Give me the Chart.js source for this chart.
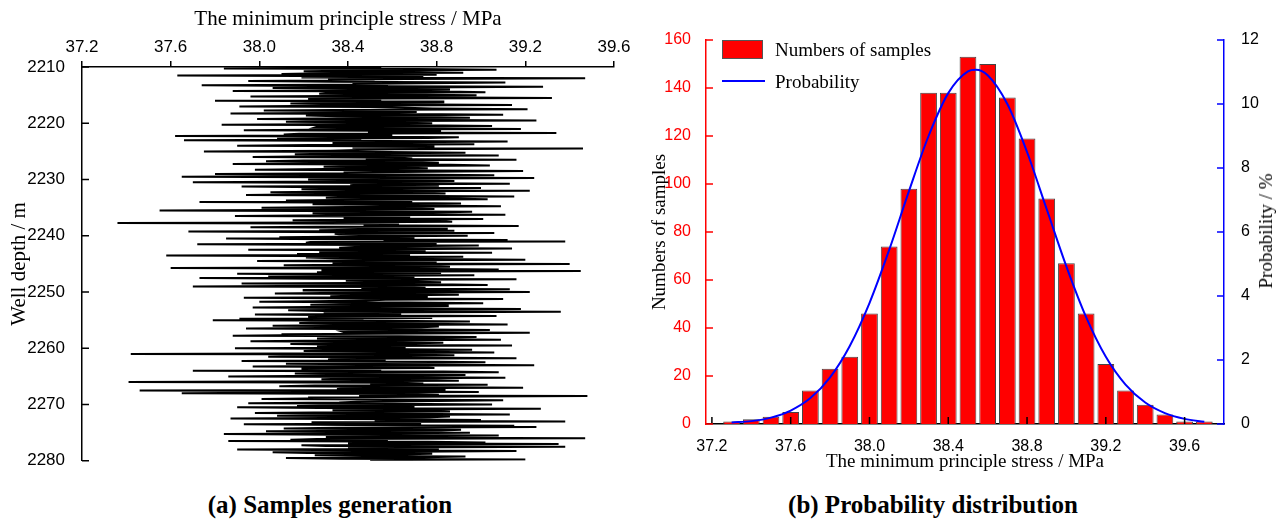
<!DOCTYPE html>
<html>
<head>
<meta charset="utf-8">
<script src="https://cdn.jsdelivr.net/npm/chart.js@4.4.1/dist/chart.umd.min.js"></script>
<style>
    body { margin: 0; width: 1282px; height: 522px; position: relative; background: #fff; overflow: hidden; }
    canvas { position: absolute; top: 0; }
    .txt { position: absolute; white-space: nowrap; font-family: 'Liberation Serif', 'Times New Roman', serif; color: #000; }
    .caption { font-weight: bold; font-size: 25px; line-height: 28px; top: 491px; transform: translateX(-50%); }
</style>
</head>
<body>
<canvas id="samplesChart" width="640" height="480" style="left:0"></canvas>
<canvas id="probChart" width="642" height="480" style="left:640px"></canvas>

<!-- leyenda del histograma -->
<div style="position:absolute;left:722px;top:40px;width:41px;height:19px;background:#ff0000;border:1px solid #555;box-sizing:border-box"></div>
<div class="txt" style="left:775px;top:39px;font-size:19px;line-height:22px">Numbers of samples</div>
<div style="position:absolute;left:722px;top:80px;width:43px;height:2px;background:#0000ff"></div>
<div class="txt" style="left:775px;top:71px;font-size:19px;line-height:22px">Probability</div>

<div class="txt" style="left:1266px;top:231px;font-size:19px;transform:translate(-50%,-50%) rotate(-90deg)">Probability / %</div>

<div class="txt caption" style="left:330px">(a) Samples generation</div>
<div class="txt caption" style="left:933px">(b) Probability distribution</div>

<script>
// (a) muestras: profundidad cada 0.25 m desde 2210, con muestras intermedias a +0.125 m
const DEPTH_START = 2210;
const DEPTH_STEP = 0.25;
const STRESS_SAMPLES = [
    38.55, 37.84, 39.07, 38.20, 38.92, 38.10, 37.63, 38.74, 39.47, 38.31, 37.95, 39.11, 38.42, 37.74, 39.28, 38.06, 38.86, 37.88, 39.02, 38.27,
    38.98, 37.96, 39.32, 38.40, 37.80, 38.83, 38.14, 39.14, 37.91, 38.66, 39.21, 38.02, 38.71, 37.87, 39.10, 38.35, 38.95, 37.99, 39.25, 38.12,
    38.78, 37.83, 39.05, 38.25, 39.18, 37.93, 38.57, 39.34, 38.11, 37.62, 38.90, 38.08, 37.66, 39.12, 38.33, 38.97, 37.90, 38.62, 39.46, 38.44,
    37.75, 38.93, 38.16, 39.08, 37.97, 38.69, 39.16, 38.03, 38.81, 37.88, 39.04, 38.29, 38.76, 37.98, 39.19, 38.38, 37.80, 39.06, 37.65, 39.24,
    38.22, 38.88, 37.70, 39.13, 38.41, 37.92, 39.00, 38.19, 39.22, 38.05, 38.84, 37.94, 39.15, 38.30, 39.03, 38.12, 37.73, 38.91, 38.47, 39.09,
    38.01, 38.79, 37.55, 38.96, 38.24, 39.11, 37.89, 38.68, 39.01, 38.15, 38.87, 37.36, 38.63, 39.17, 37.96, 38.85, 38.27, 37.68, 39.06, 38.36,
    38.94, 38.09, 37.85, 39.12, 39.38, 38.21, 37.72, 38.99, 38.43, 39.14, 37.95, 38.72, 39.05, 38.17, 37.58, 38.92, 38.34, 39.20, 37.99, 38.80,
    39.40, 38.11, 38.86, 37.60, 39.08, 39.45, 38.26, 37.90, 38.97, 38.04, 37.73, 39.16, 38.39, 38.82, 37.92, 39.03, 37.70, 38.75, 39.13, 38.20,
    39.22, 38.07, 38.90, 38.32, 37.93, 39.10, 38.48, 38.00, 39.01, 38.23, 38.85, 37.97, 39.18, 38.13, 39.36, 38.29, 37.98, 39.07, 38.58, 37.91,
    37.79, 38.95, 38.18, 39.12, 38.06, 38.73, 37.94, 39.04, 38.37, 39.22, 38.10, 37.88, 38.98, 38.26, 39.09, 37.96, 38.83, 38.14, 39.14, 38.45,
    37.89, 38.96, 38.20, 39.06, 37.42, 38.88, 38.04, 39.16, 38.31, 37.92, 39.02, 38.12, 39.24, 37.97, 38.79, 38.40, 37.70, 39.08, 38.16, 38.93,
    37.86, 39.11, 38.28, 38.90, 37.41, 38.74, 39.03, 38.09, 39.19, 38.35, 37.46, 38.99, 37.65, 38.81, 39.48, 38.22, 38.01, 39.10, 38.44, 37.95,
    39.05, 38.17, 37.90, 39.27, 38.33, 38.86, 37.98, 39.13, 38.08, 38.77, 37.87, 39.00, 39.38, 38.24, 37.93, 39.15, 39.25, 38.11, 38.91, 38.03,
    38.95, 37.84, 39.08, 38.30, 39.47, 38.14, 37.86, 39.02, 39.35, 38.19, 39.38, 38.40, 37.90, 39.16, 38.06, 38.78, 38.25, 38.93, 38.12, 39.20,
    38.50
];
const STRESS_SAMPLES_MID = [
    38.36, 38.71, 38.48, 38.62, 38.29, 38.80, 38.44, 38.19, 38.66, 38.52, 38.33, 38.75, 38.58, 38.24, 38.69, 38.41, 38.57, 38.85, 38.31, 38.64,
    38.47, 38.70, 38.22, 38.55, 38.83, 38.38, 38.61, 38.27, 38.50, 38.78, 38.34, 38.59, 38.45, 38.68, 38.21, 38.74, 38.40, 38.63, 38.30, 38.56,
    38.43, 38.72, 38.26, 38.65, 38.37, 38.82, 38.49, 38.18, 38.60, 38.35, 38.76, 38.46, 38.28, 38.67, 38.53, 38.23, 38.79, 38.42, 38.61, 38.32,
    38.58, 38.39, 38.73, 38.25, 38.64, 38.48, 38.20, 38.70, 38.36, 38.86, 38.44, 38.62, 38.30, 38.55, 38.77, 38.41, 38.68, 38.27, 38.59, 38.50,
    38.66, 38.33, 38.57, 38.45, 38.81, 38.28, 38.63, 38.51, 38.37, 38.74, 38.22, 38.60, 38.46, 38.84, 38.35, 38.69, 38.54, 38.24, 38.71, 38.40,
    38.62, 38.29, 38.50, 38.78, 38.43, 38.19, 38.66, 38.38, 38.57, 38.83, 38.31, 38.60, 38.47, 38.26, 38.72, 38.53, 38.88, 38.42, 38.34, 38.64,
    38.45, 38.70, 38.31, 38.56, 38.23, 38.80, 38.49, 38.65, 38.36, 38.59, 38.75, 38.27, 38.52, 38.68, 38.40, 38.21, 38.77, 38.44, 38.61, 38.33,
    38.55, 38.73, 38.38, 38.63, 38.28, 38.47, 38.82, 38.35, 38.58, 38.70, 38.25, 38.49, 38.66, 38.41, 38.79, 38.30, 38.60, 38.46, 38.20, 38.69,
    38.39, 38.62, 38.48, 38.76, 38.32, 38.57, 38.24, 38.67, 38.43, 38.85, 38.36, 38.54, 38.71, 38.29, 38.50, 38.64, 38.42, 38.22, 38.78, 38.47,
    38.58, 38.34, 38.69, 38.45, 38.81, 38.27, 38.61, 38.52, 38.38, 38.74, 38.20, 38.63, 38.48, 38.87, 38.33, 38.56, 38.70, 38.41, 38.26, 38.66,
    38.51, 38.37, 38.73, 38.44, 38.60, 38.23, 38.68, 38.35, 38.57, 38.80, 38.30, 38.62, 38.46, 38.71, 38.19, 38.55, 38.83, 38.39, 38.64, 38.28,
    38.59, 38.42, 38.75, 38.32, 38.63, 38.50, 38.25, 38.69, 38.40, 38.84, 38.56, 38.21, 38.67, 38.45, 38.72, 38.31, 38.58, 38.80, 38.36, 38.61,
    38.47, 38.70, 38.27, 38.55, 38.78, 38.38, 38.64, 38.43, 38.86, 38.29, 38.60, 38.52, 38.24, 38.73, 38.41, 38.66, 38.35, 38.57, 38.82, 38.46,
    38.62, 38.33, 38.71, 38.49, 38.26, 38.58, 38.76, 38.40, 38.65, 38.30, 38.54, 38.81, 38.44, 38.68, 38.22, 38.60, 38.47, 38.74, 38.37, 38.57
];
const STRESS_TICKS = [37.2, 37.6, 38.0, 38.4, 38.8, 39.2, 39.6];
const DEPTH_TICKS = [2210, 2220, 2230, 2240, 2250, 2260, 2270, 2280];

// (b) histograma y curva de probabilidad
const BIN_CENTERS = [37.3, 37.4, 37.5, 37.6, 37.7, 37.8, 37.9, 38.0, 38.1, 38.2, 38.3, 38.4, 38.5,
                     38.6, 38.7, 38.8, 38.9, 39.0, 39.1, 39.2, 39.3, 39.4, 39.5, 39.6, 39.7];
const SAMPLE_COUNTS = [1, 2, 3, 5, 14, 23, 28, 46, 74, 98, 138, 138, 153,
                       150, 136, 119, 94, 67, 46, 25, 14, 8, 4, 1, 1];
const PROB_X = [37.3, 37.4, 37.5, 37.6, 37.7, 37.8, 37.9, 38.0, 38.1, 38.2, 38.3, 38.4, 38.5, 38.54,
                38.6, 38.7, 38.8, 38.9, 39.0, 39.1, 39.2, 39.3, 39.4, 39.5, 39.6, 39.7];
const PROB_PERCENT = [0.05, 0.09, 0.2, 0.42, 0.81, 1.46, 2.44, 3.78, 5.44, 7.27, 9.0, 10.34, 11.02, 11.07,
                      10.9, 10.0, 8.5, 6.71, 4.92, 3.34, 2.1, 1.23, 0.67, 0.34, 0.16, 0.07];
const COUNT_TICKS = [0, 20, 40, 60, 80, 100, 120, 140, 160];
const PROB_TICKS = [0, 2, 4, 6, 8, 10, 12];

const SANS = "'Liberation Sans', Arial, sans-serif";
const SERIF = "'Liberation Serif', 'Times New Roman', serif";

// marcas de los ejes hacia dentro
const inwardTicks = {
    id: 'inwardTicks',
    afterDatasetsDraw(chart, args, opts) {
        const ctx = chart.ctx;
        (opts.marks || []).forEach(m => {
            const s = chart.scales[m.axis];
            ctx.save();
            ctx.strokeStyle = m.color;
            ctx.lineWidth = 1.5;
            ctx.beginPath();
            s.ticks.forEach(t => {
                const p = s.getPixelForValue(t.value);
                if (m.side === 'bottom') { ctx.moveTo(p, s.top); ctx.lineTo(p, s.top - m.len); }
                else if (m.side === 'left') { ctx.moveTo(s.right, p); ctx.lineTo(s.right + m.len, p); }
                else if (m.side === 'right') { ctx.moveTo(s.left, p); ctx.lineTo(s.left - m.len, p); }
            });
            ctx.stroke();
            ctx.restore();
        });
    }
};

const fixedTicks = arr => scale => { scale.ticks = arr.map(v => ({ value: v })); };

// puntos en orden de profundidad
const samplePoints = [];
STRESS_SAMPLES.forEach((s, i) => {
    samplePoints.push({ x: s, y: DEPTH_START + i * DEPTH_STEP });
    if (i < STRESS_SAMPLES_MID.length) {
        samplePoints.push({ x: STRESS_SAMPLES_MID[i], y: DEPTH_START + (i + 0.5) * DEPTH_STEP });
    }
});

new Chart(document.getElementById('samplesChart'), {
    type: 'line',
    data: {
        datasets: [{
            data: samplePoints,
            borderColor: '#000',
            borderWidth: 2,
            pointRadius: 0,
            tension: 0
        }]
    },
    plugins: [inwardTicks],
    options: {
        responsive: false,
        animation: false,
        layout: { padding: { left: 0, right: 26, top: 0, bottom: 18 } },
        plugins: {
            legend: { display: false },
            tooltip: { enabled: false },
            inwardTicks: { marks: [{ axis: 'y', side: 'left', len: 7, color: '#000' }] }
        },
        scales: {
            x: {
                type: 'linear', position: 'top', min: 37.2, max: 39.6,
                afterBuildTicks: fixedTicks(STRESS_TICKS),
                afterFit: s => { s.height = 67; },
                ticks: { color: '#000', padding: 3, font: { family: SANS, size: 17 }, callback: v => v.toFixed(1), maxRotation: 0 },
                grid: { drawOnChartArea: false, drawTicks: true, tickLength: 6, color: '#000', lineWidth: 1.5 },
                border: { color: '#000', width: 1.5 },
                title: { display: true, text: 'The minimum principle stress / MPa', color: '#000', font: { family: SERIF, size: 21 }, padding: { top: 7, bottom: 0 } }
            },
            y: {
                type: 'linear', reverse: true, min: 2210, max: 2280,
                afterBuildTicks: fixedTicks(DEPTH_TICKS),
                afterFit: s => { s.width = 82; },
                ticks: { color: '#000', padding: 9, font: { family: SANS, size: 17 }, callback: v => String(v) },
                grid: { display: false },
                border: { color: '#000', width: 1.5 },
                title: { display: true, text: 'Well depth / m', color: '#000', font: { family: SERIF, size: 21 }, padding: { top: 7, bottom: 0 } }
            }
        }
    }
});

new Chart(document.getElementById('probChart'), {
    type: 'bar',
    data: {
        datasets: [{
            type: 'bar',
            label: 'Numbers of samples',
            data: BIN_CENTERS.map((x, i) => ({ x: x, y: SAMPLE_COUNTS[i] })),
            backgroundColor: '#ff0000',
            borderColor: '#444',
            borderWidth: 1,
            barPercentage: 0.85,
            categoryPercentage: 1,
            yAxisID: 'y',
            order: 1
        }, {
            type: 'line',
            label: 'Probability',
            data: PROB_X.map((x, i) => ({ x: x, y: PROB_PERCENT[i] })),
            borderColor: '#0000ff',
            borderWidth: 2,
            pointRadius: 0,
            cubicInterpolationMode: 'monotone',
            yAxisID: 'y1',
            order: 0
        }]
    },
    plugins: [inwardTicks],
    options: {
        responsive: false,
        animation: false,
        layout: { padding: { left: 0, right: 0, top: 40, bottom: 0 } },
        plugins: {
            legend: { display: false },
            tooltip: { enabled: false },
            inwardTicks: {
                marks: [
                    { axis: 'x', side: 'bottom', len: 7, color: '#000' },
                    { axis: 'y', side: 'left', len: 7, color: '#ff0000' },
                    { axis: 'y1', side: 'right', len: 7, color: '#0000ff' }
                ]
            }
        },
        scales: {
            x: {
                type: 'linear', min: 37.17, max: 39.8, offset: false,
                afterBuildTicks: fixedTicks(STRESS_TICKS),
                afterFit: s => { s.height = 56; },
                ticks: { color: '#000', padding: 5, font: { family: SANS, size: 16 }, callback: v => v.toFixed(1), maxRotation: 0 },
                grid: { display: false, offset: false },
                border: { color: '#000', width: 1.5 },
                title: { display: true, text: 'The minimum principle stress / MPa', color: '#000', font: { family: SERIF, size: 19 }, padding: { top: 0, bottom: 7 } }
            },
            y: {
                type: 'linear', position: 'left', min: 0, max: 160,
                afterBuildTicks: fixedTicks(COUNT_TICKS),
                afterFit: s => { s.width = 66; },
                ticks: { color: '#ff0000', padding: 7, font: { family: SANS, size: 16 } },
                grid: { display: false },
                border: { color: '#ff0000', width: 1.5 },
                title: { display: true, text: 'Numbers of samples', color: '#000', font: { family: SERIF, size: 19 }, padding: { top: 9, bottom: 0 } }
            },
            y1: {
                type: 'linear', position: 'right', min: 0, max: 12,
                afterBuildTicks: fixedTicks(PROB_TICKS),
                afterFit: s => { s.width = 58; },
                ticks: { color: '#000', padding: 9, font: { family: SANS, size: 16 } },
                grid: { display: false },
                border: { color: '#0000ff', width: 1.5 }
            }
        }
    }
});
</script>
</body>
</html>
